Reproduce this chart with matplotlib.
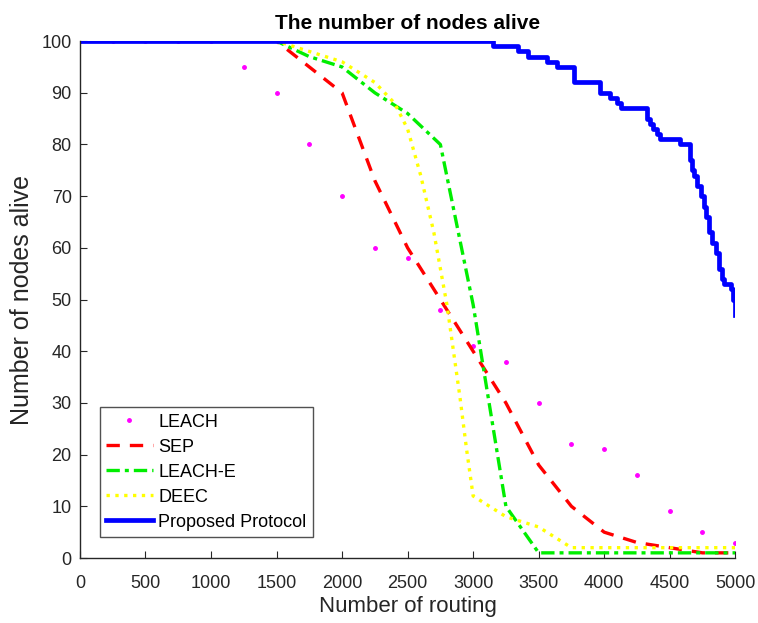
import numpy as np
import matplotlib
matplotlib.use("Agg")
import matplotlib.pyplot as plt

plt.rcParams['font.family'] = ['Liberation Sans', 'DejaVu Sans']

# LEACH (sampled every 250 rounds)
leach_x = [0, 250, 500, 750, 1000, 1250, 1500, 1750, 2000, 2250, 2500, 2750,
           3000, 3250, 3500, 3750, 4000, 4250, 4500, 4750, 5000]
leach_y = [100, 100, 100, 100, 100, 95, 90, 80, 70, 60, 58, 48,
           41, 38, 30, 22, 21, 16, 9, 5, 3]

# SEP
sep_x = [0, 1500, 1750, 2000, 2250, 2500, 2750, 3000, 3250, 3500, 3750,
         4000, 4250, 4500, 4750, 5000]
sep_y = [100, 100, 95, 90, 73, 60, 50, 40, 30, 18, 10, 5, 3, 2, 1, 1]

# LEACH-E
leache_x = [0, 1500, 1750, 2000, 2250, 2500, 2750, 3000, 3250, 3500, 5000]
leache_y = [100, 100, 97, 95, 90, 86, 80, 49, 10, 1, 1]

# DEEC
deec_x = [0, 1500, 1750, 2000, 2250, 2400, 2500, 2600, 2700, 2800, 2900,
          2950, 3000, 3250, 3500, 3750, 5000]
deec_y = [100, 100, 98, 96, 92, 88, 83, 74, 63, 49, 31, 21, 12, 8, 6, 2, 2]

# Proposed protocol (staircase)
prop_x = [0, 3155, 3346, 3422, 3560, 3640, 3766, 3970, 4046, 4100, 4125,
          4330, 4350, 4376, 4402, 4427, 4580, 4655, 4670, 4685, 4710, 4735,
          4760, 4780, 4800, 4825, 4850, 4875, 4900, 4915, 4965, 4985, 5000]
prop_y = [100, 99, 98, 97, 96, 95, 92, 90, 89, 88, 87,
          85, 84, 83, 82, 81, 80, 77, 75, 74, 72, 70,
          68, 66, 63, 61, 59, 56, 54, 53, 52, 50, 47]

fig = plt.figure(figsize=(7.58, 6.23), dpi=100)
ax = fig.add_axes([0.1055, 0.1043, 0.8645, 0.8297])

grey = '#262626'
ax.plot(leach_x, leach_y, '.', color='#ff00ff', markersize=5, label='LEACH')
ax.plot(sep_x, sep_y, '--', color='#ff0000', linewidth=2.4, dashes=(4, 3), label='SEP')
ax.plot(leache_x, leache_y, '-.', color='#00ee00', linewidth=2.4,
        dashes=(4, 1.5, 1.2, 1.5), label='LEACH-E')
ax.plot(deec_x, deec_y, ':', color='#ffff00', linewidth=2.4, label='DEEC')
ax.plot(prop_x, prop_y, '-', color='#0000ff', linewidth=3.4,
        drawstyle='steps-post', label='Proposed Protocol')

ax.set_xlim(0, 5000)
ax.set_ylim(0, 100)
ax.set_xticks(np.arange(0, 5001, 500))
ax.set_yticks(np.arange(0, 101, 10))
ax.tick_params(direction='in', labelsize=13, colors=grey, length=5)
ax.tick_params(axis='x', pad=12)
ax.tick_params(axis='y', pad=6)
for s in ['top', 'right']:
    ax.spines[s].set_visible(False)
for s in ['left', 'bottom']:
    ax.spines[s].set_color(grey)
    ax.spines[s].set_linewidth(1.0)

ax.set_xlabel('Number of routing', fontsize=16, color=grey, labelpad=3)
ax.set_ylabel('Number of nodes alive', fontsize=18, color=grey, labelpad=5)
ax.set_title('The number of nodes alive', fontsize=15, fontweight='bold', pad=9)

leg = ax.legend(loc='lower left', bbox_to_anchor=(0.03, 0.041), borderaxespad=0,
                fontsize=13, frameon=True, fancybox=False, edgecolor=grey,
                handlelength=2.6, borderpad=0.35, labelspacing=0.44,
                handletextpad=0.3)
leg.get_frame().set_linewidth(1.0)

fig.savefig('out.png', dpi=100)
